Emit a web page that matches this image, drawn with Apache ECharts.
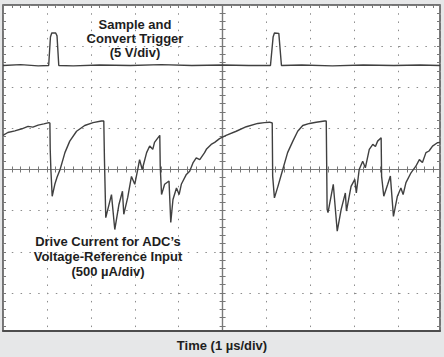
<!DOCTYPE html>
<html>
<head>
<meta charset="utf-8">
<script src="https://cdn.jsdelivr.net/npm/echarts@6/dist/echarts.min.js"></script>
<style>
html,body{margin:0;padding:0;background:#e6e7e8;}
#chart{width:444px;height:357px;}
</style>
</head>
<body>
<div id="chart"></div>
<script>
// Time in µs (1 µs/div); vertical values in scope divisions (0 = centre line)
const triggerX = [0, 0.4, 0.8, 1.04, 1.08, 1.11, 1.2, 1.23, 1.27, 1.6, 2.2, 2.9, 3.6, 4.3, 5.0, 5.6, 6.09, 6.15, 6.18, 6.28, 6.34, 6.8, 7.5, 8.2, 8.9, 9.5, 9.95];
const triggerY = [2.53, 2.55, 2.52, 2.53, 3.22, 3.32, 3.32, 3.25, 2.53, 2.52, 2.54, 2.53, 2.55, 2.53, 2.54, 2.53, 2.53, 3.22, 3.32, 3.31, 2.53, 2.54, 2.52, 2.54, 2.53, 2.54, 2.53];

const currentX = [0, 0.11, 0.27, 0.43, 0.57, 0.68, 0.80, 0.93, 1.045, 1.068, 1.075, 1.09, 1.12, 1.18, 1.23, 1.30, 1.41, 1.52, 1.675, 1.86, 2.05, 2.24, 2.295, 2.31, 2.34, 2.47, 2.545, 2.64, 2.72, 2.75, 2.84, 2.925, 3.0, 3.075, 3.11, 3.17, 3.27, 3.34, 3.41, 3.45, 3.57, 3.58, 3.61, 3.68, 3.78, 3.82, 3.87, 3.95, 4.01, 4.06, 4.175, 4.25, 4.325, 4.40, 4.48, 4.59, 4.63, 4.74, 4.82, 4.93, 5.08, 5.31, 5.54, 5.80, 5.95, 6.07, 6.13, 6.14, 6.18, 6.26, 6.37, 6.48, 6.60, 6.71, 6.825, 6.98, 7.13, 7.32, 7.36, 7.38, 7.40, 7.52, 7.61, 7.70, 7.795, 7.82, 7.925, 8.01, 8.045, 8.11, 8.19, 8.25, 8.34, 8.42, 8.48, 8.53, 8.61, 8.62, 8.67, 8.76, 8.82, 8.89, 8.98, 9.06, 9.11, 9.175, 9.29, 9.40, 9.48, 9.55, 9.63, 9.70, 9.78, 9.89, 9.95];
const currentY = [0.83, 0.90, 0.94, 0.99, 1.05, 1.03, 1.08, 1.11, 1.14, 1.13, 0.49, 0.0, -0.65, -0.36, -0.19, 0.0, 0.41, 0.69, 0.93, 1.07, 1.14, 1.18, 1.18, 0.24, -1.17, -0.61, -1.46, -0.85, -0.53, -1.09, -0.68, -0.17, -0.36, 0.04, 0.24, 0.0, 0.41, 0.57, 0.49, 0.66, 0.83, 0.07, -0.61, -0.36, -0.28, -1.29, -0.73, -0.45, -0.61, -0.36, -0.12, -0.04, 0.16, 0.28, 0.24, 0.41, 0.49, 0.61, 0.66, 0.75, 0.83, 0.93, 1.04, 1.12, 1.14, 1.15, 1.13, -0.16, -0.69, -0.41, 0.0, 0.41, 0.69, 0.93, 1.07, 1.12, 1.15, 1.18, 1.18, -0.97, -1.05, -0.36, -1.50, -0.97, -0.57, -1.01, -0.41, -0.24, -0.57, 0.0, 0.20, 0.04, 0.49, 0.61, 0.56, 0.69, 0.77, -0.16, -0.65, -0.36, -0.16, -1.14, -0.65, -0.45, -0.61, -0.32, -0.08, 0.08, 0.24, 0.17, 0.41, 0.45, 0.57, 0.65, 0.66];

const triggerLabel = 'Sample and\nConvert Trigger\n(5 V/div)';
const currentLabel = 'Drive Current for ADC\u2019s\nVoltage-Reference Input\n(500 \u00b5A/div)';
const timeLabel = 'Time (1 \u00b5s/div)';

const xMax = 9.95;

const triggerData = triggerX.map((x, i) => [x, triggerY[i]]);
const currentData = currentX.map((x, i) => [x, currentY[i]]);

const FONT = 'bold 13px "Liberation Sans", Arial, sans-serif';
const rect = { left: 3, top: 5, width: 437, height: 329 };

function decoX(gridIndex, opts) {
  return Object.assign({
    type: 'value', gridIndex: gridIndex, min: -5, max: xMax - 5, interval: 1,
    axisLabel: { show: false }, splitLine: { show: false },
    axisLine: { show: false }
  }, opts);
}
function decoY(gridIndex, opts) {
  return Object.assign({
    type: 'value', gridIndex: gridIndex, min: -4, max: 4, interval: 1,
    axisLabel: { show: false }, splitLine: { show: false },
    axisLine: { show: false }
  }, opts);
}
const tickStyle = { color: '#777', width: 1 };

const chart = echarts.init(document.getElementById('chart'), null, { renderer: 'svg' });
chart.setOption({
  animation: false,
  backgroundColor: '#e6e7e8',
  grid: [
    Object.assign({ show: true, backgroundColor: '#ffffff', borderColor: '#4d4d4d', borderWidth: 1.5 }, rect),
    Object.assign({}, rect),
    Object.assign({}, rect),
    Object.assign({}, rect)
  ],
  xAxis: [
    { type: 'value', gridIndex: 0, min: 0, max: xMax, interval: 1,
      axisLine: { show: false }, axisTick: { show: false }, axisLabel: { show: false },
      splitLine: { show: true, lineStyle: { color: '#8c8c8c', width: 1, type: [1.5, 6.72] } } },
    decoX(1, { position: 'bottom', axisLine: { show: true, onZero: true, lineStyle: { color: '#7a7a7a', width: 1.2 } },
      axisTick: { show: true, inside: true, length: 3, lineStyle: tickStyle },
      minorTick: { show: true, splitNumber: 5, length: 3, lineStyle: tickStyle } }),
    decoX(2, { position: 'bottom', axisLine: { show: true, onZero: true, lineStyle: { color: '#7a7a7a', width: 1.2 } },
      axisTick: { show: true, inside: false, length: 3, lineStyle: tickStyle },
      minorTick: { show: true, splitNumber: 5, length: 3, lineStyle: tickStyle } }),
    decoX(3, { position: 'top', axisLine: { show: false, onZero: false },
      axisTick: { show: true, inside: true, length: 3, lineStyle: tickStyle },
      minorTick: { show: true, splitNumber: 5, length: 3, lineStyle: tickStyle } })
  ],
  yAxis: [
    { type: 'value', gridIndex: 0, min: -4, max: 4, interval: 1,
      axisLine: { show: false }, axisTick: { show: false }, axisLabel: { show: false },
      splitLine: { show: true, lineStyle: { color: '#8c8c8c', width: 1, type: [1.5, 7.3] } } },
    decoY(1, { position: 'left', axisLine: { show: true, onZero: true, lineStyle: { color: '#7a7a7a', width: 1.2 } },
      axisTick: { show: true, inside: true, length: 3, lineStyle: tickStyle },
      minorTick: { show: true, splitNumber: 5, length: 3, lineStyle: tickStyle } }),
    decoY(2, { position: 'left', axisLine: { show: true, onZero: true, lineStyle: { color: '#7a7a7a', width: 1.2 } },
      axisTick: { show: true, inside: false, length: 3, lineStyle: tickStyle },
      minorTick: { show: true, splitNumber: 5, length: 3, lineStyle: tickStyle } }),
    decoY(3, { position: 'left', axisLine: { show: false, onZero: false },
      axisTick: { show: true, inside: true, length: 3, lineStyle: tickStyle },
      minorTick: { show: true, splitNumber: 5, length: 3, lineStyle: tickStyle } }),
    decoY(3, { position: 'right', axisLine: { show: false, onZero: false },
      axisTick: { show: true, inside: true, length: 3, lineStyle: tickStyle },
      minorTick: { show: true, splitNumber: 5, length: 3, lineStyle: tickStyle } })
  ],
  series: [
    { name: 'Sample and Convert Trigger', type: 'line', xAxisIndex: 0, yAxisIndex: 0,
      data: triggerData, showSymbol: false, z: 5,
      lineStyle: { color: '#404040', width: 1.4 } },
    { name: 'Drive Current', type: 'line', xAxisIndex: 0, yAxisIndex: 0,
      data: currentData, showSymbol: false, z: 5,
      lineStyle: { color: '#404040', width: 1.4 } }
  ],
  graphic: [
    { type: 'text', z: 10, style: { text: triggerLabel, x: 135, y: 38, align: 'center', verticalAlign: 'middle',
      font: FONT, fill: '#1e1e1e', lineHeight: 14 } },
    { type: 'text', z: 10, style: { text: currentLabel, x: 108, y: 256, align: 'center', verticalAlign: 'middle',
      font: FONT, fill: '#1e1e1e', lineHeight: 15 } },
    { type: 'rect', z: 20, shape: { x: 0, y: 331.5, width: 444, height: 26 }, style: { fill: '#e6e7e8' } },
    { type: 'line', z: 21, shape: { x1: 2.25, y1: 331, x2: 440.75, y2: 331 }, style: { stroke: '#4d4d4d', lineWidth: 1.8 } },
    { type: 'text', z: 22, style: { text: timeLabel, x: 222, y: 345, align: 'center', verticalAlign: 'middle',
      font: FONT, fill: '#1e1e1e' } }
  ]
});
</script>
</body>
</html>
